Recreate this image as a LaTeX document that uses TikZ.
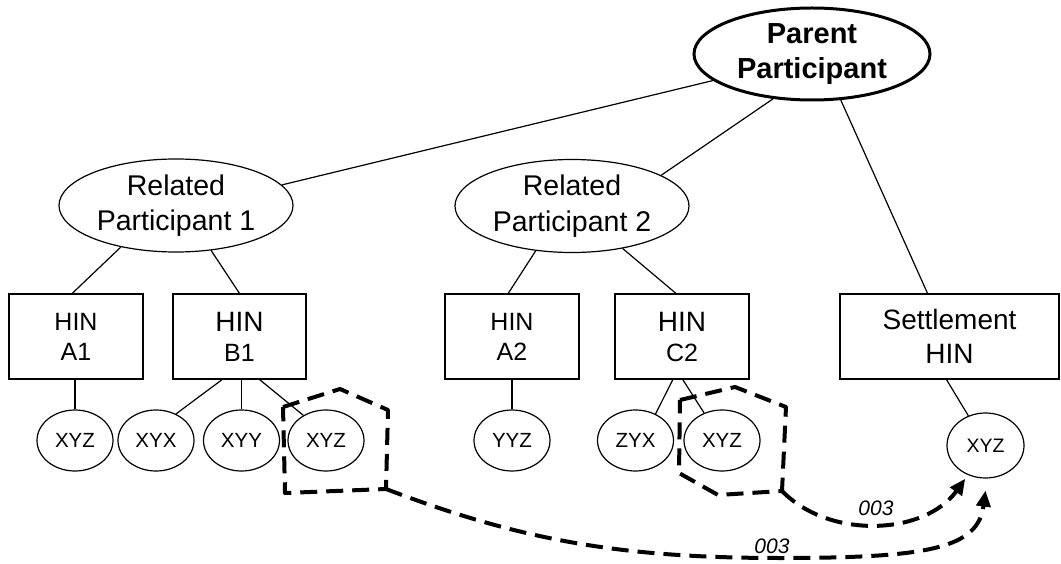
\documentclass[tikz,border=0pt]{standalone}
\usepackage{fontspec}
\setmainfont{Liberation Sans}
\usetikzlibrary{shapes.geometric,arrows.meta,calc}
\begin{document}
\begin{tikzpicture}[x=1pt,y=-1pt,
  conn/.style={line width=1.2pt},
  pnode/.style={ellipse,draw,line width=3pt,minimum width=236pt,minimum height=92pt,inner sep=0pt,align=center,font=\bfseries\fontsize{29}{35}\selectfont},
  relnode/.style={ellipse,draw,line width=1.2pt,minimum width=234pt,minimum height=93pt,inner sep=0pt,align=center,font=\fontsize{28.5}{35.5}\selectfont},
  hinbox/.style={rectangle,draw,line width=1.2pt,minimum width=134pt,minimum height=85pt,inner sep=0pt,align=center,font=\fontsize{25}{30}\selectfont},
  leaf/.style={ellipse,draw,line width=1.2pt,minimum width=76pt,minimum height=61pt,inner sep=0pt,font=\fontsize{20.5}{24}\selectfont},
  grp/.style={line width=4pt,dash pattern=on 17pt off 9pt,line join=round},
  flow/.style={grp,-{Triangle[length=16pt,width=14pt]}},
  lbl/.style={inner sep=0pt,font=\itshape\fontsize{21}{24}\selectfont}
]
\fill[white] (0,0) rectangle (1061,564);
\useasboundingbox (0,0) rectangle (1061,564);

% top level
\node[pnode] (parent) at (812,54) {Parent\\Participant};
\node[relnode] (rp1) at (176,205.5) {Related\\Participant 1};
\node[relnode] (rp2) at (572,206) {Related\\Participant 2};

% HIN boxes
\node[hinbox] (a1) at (76,336.5) {HIN\\A1};
\node[hinbox,minimum width=133pt] (b1) at (239.5,336.5) {{\fontsize{28}{30}\selectfont HIN}\\B1};
\node[hinbox] (a2) at (512,336.5) {HIN\\A2};
\node[hinbox] (c2) at (682,336.5) {{\fontsize{28}{30}\selectfont HIN}\\C2};
\node[hinbox,minimum width=219pt,font=\fontsize{28}{34}\selectfont] (sh) at (949.5,336.5) {Settlement\\HIN};

% leaves
\node[leaf] (l1) at (75,440.5) {XYZ};
\node[leaf] (l2) at (156,440.5) {XYX};
\node[leaf] (l3) at (241.5,440.5) {XYY};
\node[leaf] (l4) at (326,440.5) {XYZ};
\node[leaf] (l5) at (512,440.5) {YYZ};
\node[leaf] (l6) at (635.5,440.5) {ZYX};
\node[leaf] (l7) at (722,440.5) {XYZ};
\node[leaf,minimum width=77pt,minimum height=65pt,font=\fontsize{19.5}{24}\selectfont] (l8) at (985.5,445.5) {XYZ};

% connectors
\draw[conn] (parent.195.6) -- (rp1.11.9);
\draw[conn] (parent.229) -- (rp2.19.6);
\draw[conn] (parent.302.6) -- (sh.117.9);
\draw[conn] (rp1.217.4) -- (a1.95.4);
\draw[conn] (rp1.308.5) -- (b1.north);
\draw[conn] (rp2.231.2) -- (a2.95.4);
\draw[conn] (rp2.320) -- (c2.98);

\draw[conn] (l1.north) -- (l1.north |- a1.south);
\draw[conn] (b1.248.8) -- (l2.53);
\draw[conn] (l3.north) -- (l3.north |- b1.south);
\draw[conn] (b1.295.8) -- (l4.132);
\draw[conn] (l5.north) -- (l5.north |- a2.south);
\draw[conn] (c2.258) -- (l6.53.3);
\draw[conn] (c2.271.3) -- (l7.123.2);
\draw[conn] (sh.266.6) -- (l8.120.7);

% dashed groups
\coordinate (g1a) at (283,407);
\coordinate (g1b) at (340,389);
\coordinate (g1c) at (388,410);
\coordinate (g1d) at (386,489);
\coordinate (g1e) at (285,493);
\draw[grp] (g1a) -- (g1b) -- (g1c) -- (g1d) -- (g1e) -- cycle;

\coordinate (g2a) at (680,400);
\coordinate (g2b) at (735,387);
\coordinate (g2c) at (786,407);
\coordinate (g2d) at (782,491);
\coordinate (g2e) at (718,495);
\coordinate (g2f) at (679,473);
\draw[grp] (g2a) -- (g2b) -- (g2c) -- (g2d) -- (g2e) -- (g2f) -- cycle;

% flows
\coordinate (t1) at ([shift={(-2pt,-4pt)}]l8.238);
\coordinate (t2) at ([yshift=-12pt]l8.south);
\draw[flow] (g2d) .. controls (830,540) and (925,535) .. (t1);
\draw[flow] (g1d) .. controls (520,540) and (620,558) .. (780,558)
  .. controls (930,558) and (978,548) .. (t2);

\node[lbl] (n1) at (876,508) {003};
\node[lbl] (n2) at (772,546) {003};
\end{tikzpicture}
\end{document}
